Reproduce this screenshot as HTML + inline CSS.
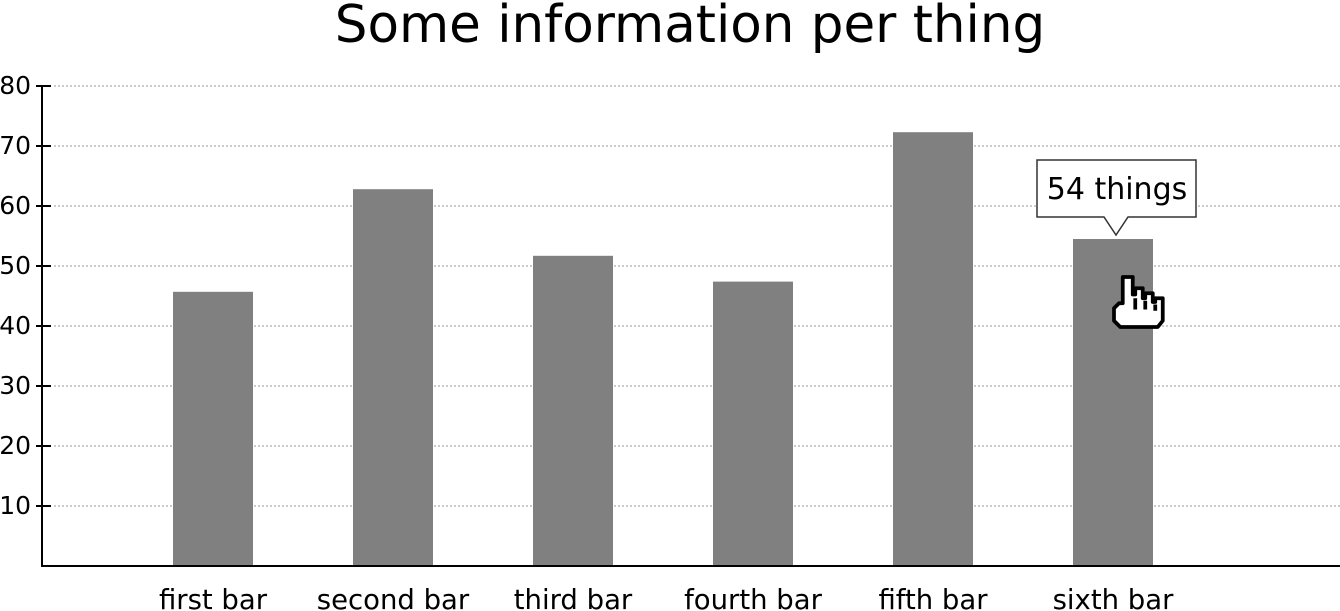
<!DOCTYPE html>
<html><head><meta charset="utf-8"><style>
html,body{margin:0;padding:0;background:#fff;width:1340px;height:611px;overflow:hidden}
svg{display:block;font-family:"DejaVu Sans","Liberation Sans",sans-serif}
</style></head><body>
<svg id="chart" width="1340" height="611">
<text x="690" y="42" text-anchor="middle" font-size="51.5" fill="#000">Some information per thing</text>
<g id="grid"></g><g id="bars"></g><g id="axes"></g>
</svg>
<script>
const categories=["first bar","second bar","third bar","fourth bar","fifth bar","sixth bar"];
const values=[45.7,62.8,51.7,47.4,72.3,54.5];
const yTicks=[10,20,30,40,50,60,70,80];
const tooltipText="54 things";
const NS="http://www.w3.org/2000/svg";
const y0=566,yScale=6,x0=43;
function y(v){return y0-v*yScale;}
function xc(i){return 213+i*180;}
function mk(t,a,p){const e=document.createElementNS(NS,t);for(const k in a)e.setAttribute(k,a[k]);p.appendChild(e);return e;}
const grid=document.getElementById('grid'),bars=document.getElementById('bars'),axes=document.getElementById('axes');
yTicks.forEach(v=>{
 const g=mk('line',{x1:54,x2:1340,y1:y(v),y2:y(v),stroke:'#bbb','stroke-width':1.5,'stroke-dasharray':'2,2'},grid);
 
 
 const t=mk('line',{x1:36,x2:51,y1:y(v),y2:y(v),stroke:'#000','stroke-width':2},axes);
 
 
 const l=mk('text',{x:31,y:y(v)+8,'text-anchor':'end','font-size':25},axes);
 l.textContent=v;
 
 
});
categories.forEach((c,i)=>{
 const b=mk('rect',{x:xc(i)-40,y:y(values[i]),width:80,height:values[i]*yScale,fill:'#808080'},bars);
 
 
 const l=mk('text',{x:xc(i),y:609,'text-anchor':'middle','font-size':27.5},axes);
 l.textContent=c;
 
 
});
const ya=mk('line',{x1:42,x2:42,y1:86,y2:567,stroke:'#000','stroke-width':2},axes);


const xa=mk('line',{x1:41,x2:1340,y1:566,y2:566,stroke:'#000','stroke-width':2},axes);


const tx=xc(5)+3,tb=y(values[5])-4;
const tp=mk('path',{d:`M1037,160 H1196 V217 H${tx+12} L${tx},${tb} L${tx-12},217 H1037 Z`,fill:'#fff',stroke:'#333','stroke-width':1.5},axes);


const tt=mk('text',{x:1117,y:199,'text-anchor':'middle','font-size':30},axes);
tt.textContent=tooltipText;


const hand=mk('path',{d:'M1123,278 h8 v14 h2 v-5 h6 v8 h2 v-4 h6 v7 h2 v-3 h6 v18 l-4,5 h-30 l-5,-5 v-10 l4,-4 h3 z M1133,295 v9 M1141,297 v7 M1149,300 v5',fill:'#fff',stroke:'#000','stroke-width':3,'stroke-linejoin':'round',transform:'translate(1114,277) scale(1.25) translate(-1116,-278)'},axes);


</script>
</body></html>
